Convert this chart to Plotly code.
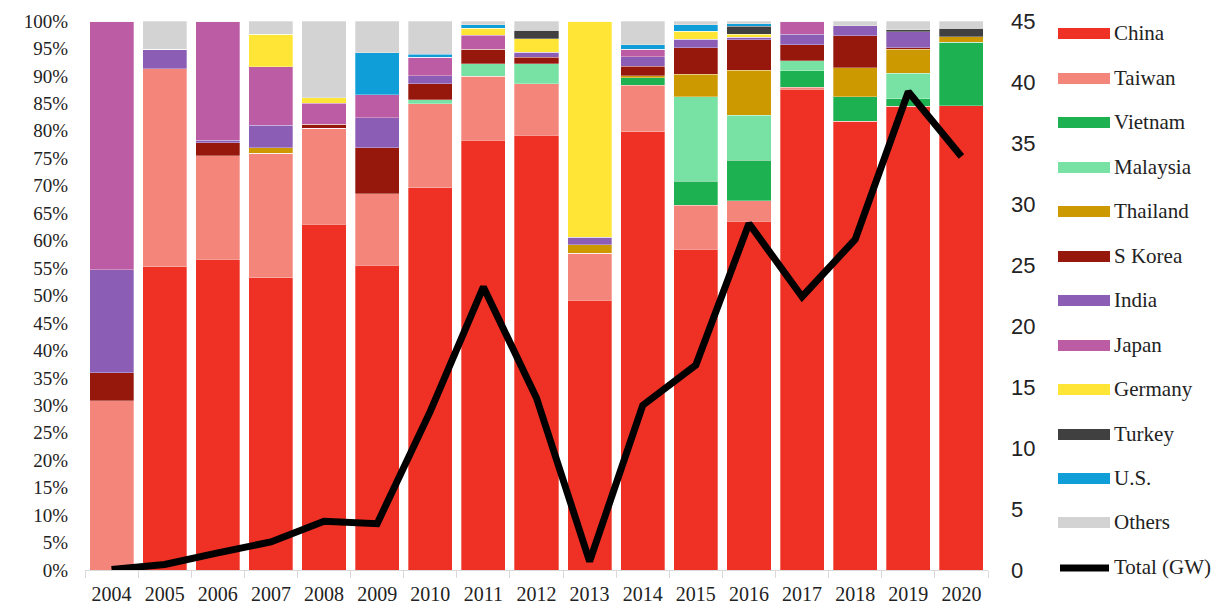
import plotly.graph_objects as go

years = [str(y) for y in range(2004, 2021)]

china    = [0, 55.2, 56.6, 53.2, 63.0, 55.5, 69.6, 78.3, 79.2, 49.1, 79.8, 58.4, 63.5, 87.6, 81.7, 84.5, 84.6]
taiwan   = [30.8, 36.1, 18.9, 22.7, 17.5, 13.0, 15.3, 11.6, 9.4, 8.6, 8.5, 8.0, 3.8, 0.3, 0, 0, 0]
vietnam  = [0, 0, 0, 0, 0, 0, 0, 0, 0, 0, 1.4, 4.4, 7.3, 3.0, 4.5, 1.3, 11.5]
malaysia = [0, 0, 0, 0, 0, 0, 0.8, 2.3, 3.6, 0, 0, 15.4, 8.2, 1.9, 0, 4.7, 0]
thailand = [0, 0, 0, 1.0, 0, 0, 0, 0, 0, 1.5, 0.3, 4.1, 8.2, 0, 5.3, 4.4, 1.0]
skorea   = [5.1, 0, 2.3, 0, 0.7, 8.4, 2.9, 2.7, 1.2, 0, 1.8, 4.8, 5.6, 2.9, 5.8, 0.2, 0]
india    = [18.8, 3.6, 0.5, 4.1, 0, 5.5, 1.4, 0, 0.9, 1.4, 1.7, 1.6, 0.4, 1.9, 1.8, 2.9, 0]
japan    = [45.3, 0, 21.7, 10.7, 3.8, 4.2, 3.4, 2.5, 0, 0, 1.4, 0, 0, 2.4, 0, 0, 0]
germany  = [0, 0, 0, 5.9, 1.0, 0, 0, 1.3, 2.5, 39.4, 0, 1.4, 0.6, 0, 0, 0, 0]
turkey   = [0, 0, 0, 0, 0, 0, 0, 0, 1.5, 0, 0, 0, 1.4, 0, 0, 0.4, 1.6]
us       = [0, 0, 0, 0, 0, 7.6, 0.5, 0.6, 0, 0, 0.8, 1.2, 0.5, 0, 0, 0, 0]
others   = [0, 5.1, 0, 2.4, 14.0, 5.8, 6.1, 0.7, 1.7, 0, 4.3, 0.7, 0.5, 0, 0.9, 1.6, 1.3]

total_gw = [0.05, 0.45, 1.4, 2.3, 4.0, 3.8, 13.0, 23.2, 14.1, 0.7, 13.5, 16.8, 28.4, 22.4, 27.1, 39.2, 33.9]

pct_ticks = list(range(0, 101, 5))
pct_labels = [f"{v}%" for v in pct_ticks]
gw_ticks = list(range(0, 46, 5))

series = [
    ("China", china, "#EE3124"),
    ("Taiwan", taiwan, "#F4857A"),
    ("Vietnam", vietnam, "#1DB151"),
    ("Malaysia", malaysia, "#77E2A3"),
    ("Thailand", thailand, "#CC9900"),
    ("S Korea", skorea, "#96180C"),
    ("India", india, "#8B5DB5"),
    ("Japan", japan, "#BC5CA4"),
    ("Germany", germany, "#FFE536"),
    ("Turkey", turkey, "#404040"),
    ("U.S.", us, "#109ED8"),
    ("Others", others, "#D3D3D3"),
]

fig = go.Figure()
for name, vals, col in series:
    fig.add_trace(go.Bar(
        x=years, y=vals, name=name, marker_color=col,
        marker_line=dict(color="rgba(255,255,255,0.5)", width=0.6),
        showlegend=False,
    ))

fig.add_trace(go.Scatter(
    x=years, y=total_gw, name="Total (GW)", yaxis="y2", mode="lines",
    line=dict(color="black", width=7), showlegend=False,
))

# Manual legend (pixel layout converted to paper coords)
L, R, T, B = 85, 240, 21, 39
W, H = 1228 - L - R, 609 - T - B
def px(x):
    return (x - L) / W
def py(y):
    return (609 - B - y) / H

leg_font = dict(family="Liberation Serif", size=21, color="#222")
leg_y = [33, 78, 122, 167, 211, 256, 300, 345, 389, 434, 478, 522]
shapes = []
annotations = []
for (name, _, col), yy in zip(series, leg_y):
    shapes.append(dict(type="rect", xref="paper", yref="paper",
                       x0=px(1058), x1=px(1110), y0=py(yy + 6), y1=py(yy - 5),
                       fillcolor=col, line=dict(width=0)))
    annotations.append(dict(xref="paper", yref="paper", x=px(1112), y=py(yy),
                            text=name, showarrow=False, xanchor="left", yanchor="middle",
                            font=leg_font))
yy = 568
shapes.append(dict(type="line", xref="paper", yref="paper",
                   x0=px(1060), x1=px(1109), y0=py(yy), y1=py(yy),
                   line=dict(color="black", width=7)))
annotations.append(dict(xref="paper", yref="paper", x=px(1112), y=py(yy - 1),
                        text="Total (GW)", showarrow=False, xanchor="left", yanchor="middle",
                        font=leg_font))

fig.update_layout(
    barmode="stack",
    bargap=0.17,
    width=1228, height=609,
    margin=dict(l=L, r=R, t=T, b=B, autoexpand=False),
    plot_bgcolor="white", paper_bgcolor="white",
    shapes=shapes, annotations=annotations,
    xaxis=dict(
        type="category", showgrid=False, showline=True, linecolor="#d9d9d9", linewidth=1,
        ticks="outside", tickson="boundaries", ticklen=7, tickcolor="#d9d9d9",
        tickfont=dict(family="Liberation Serif", size=20, color="#222"),
        ticklabelstandoff=6, automargin=False,
    ),
    yaxis=dict(
        range=[0, 100], tickmode="array", tickvals=pct_ticks, ticktext=pct_labels,
        showgrid=False, zeroline=False, showline=False,
        tickfont=dict(family="Liberation Serif", size=19, color="#222"),
        ticklabelstandoff=16, automargin=False,
    ),
    yaxis2=dict(
        range=[0, 45], tickmode="array", tickvals=gw_ticks, overlaying="y", side="right",
        showgrid=False, zeroline=False, showline=False,
        tickfont=dict(family="Liberation Sans", size=22, color="#222"),
        ticklabelstandoff=22, automargin=False,
    ),
)

fig.write_html("out.html")
